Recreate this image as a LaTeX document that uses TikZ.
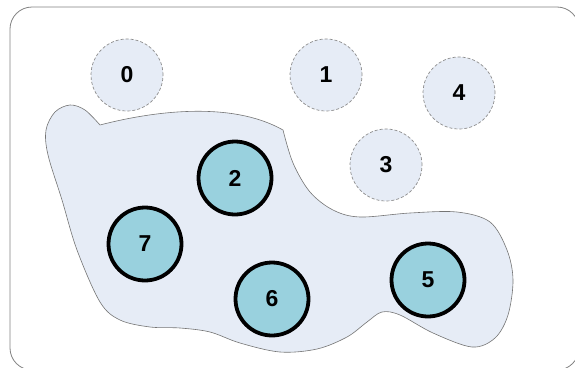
\documentclass[tikz,border=0pt]{standalone}
\usepackage{fontspec}
\setmainfont{Liberation Sans}
\begin{document}
\begin{tikzpicture}[x=1pt,y=-1pt,
  lbl/.style={font=\fontsize{23}{26}\selectfont\bfseries},
  ghost/.style={circle,minimum size=72pt,inner sep=0pt,draw=gray!90,fill=blobfill,line width=0.7pt,dash pattern=on 3pt off 2pt,lbl},
  member/.style={circle,minimum size=73pt,inner sep=0pt,draw=black,fill=tealfill,line width=3.8pt,lbl}]
\definecolor{blobfill}{RGB}{230,236,246}
\definecolor{tealfill}{RGB}{153,209,222}
\definecolor{framegray}{RGB}{130,130,130}
\useasboundingbox (0,0) rectangle (575,367);
\draw[framegray,line width=0.8pt,fill=white,rounded corners=22pt] (10,7) rectangle (579,370);
\draw[framegray!90!black,line width=0.6pt,fill=blobfill]
  plot[smooth,tension=0.55] coordinates {(283,130) (293,163) (310,192) (333,210) (360,217) (410,213) (457,212) (490,222) (507,250) (513,280) (508,315) (495,338) (472,347) (433,333) (400,315) (382,312) (367,322) (347,337) (317,349) (280,352) (240,343) (210,332) (180,328) (150,327) (120,320) (100,302) (77,250) (62,200) (48,155) (46,130) (55,112) (70,105) (85,110) (100,125)}
  .. controls (150,112) and (230,100) .. (283,130) -- cycle;
\node[ghost] (n0) at (127,75) {0};
\node[ghost] (n1) at (326,75) {1};
\node[ghost] (n3) at (386,165) {3};
\node[ghost] (n4) at (459,93) {4};
\node[member] (n2) at (235,178) {2};
\node[member] (n7) at (145,244) {7};
\node[member] (n6) at (272,299) {6};
\node[member] (n5) at (428,280) {5};
\end{tikzpicture}
\end{document}
